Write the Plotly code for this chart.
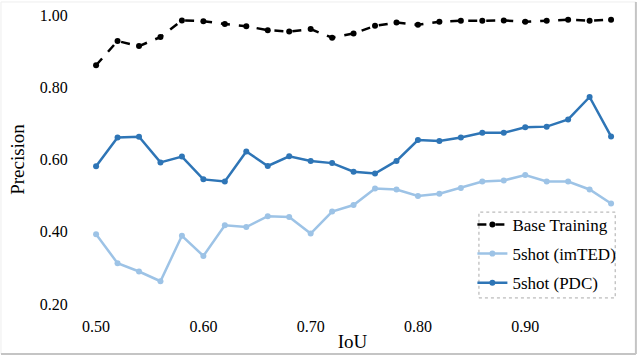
import plotly.graph_objects as go

# IoU thresholds and precision per setting
iou = [0.50, 0.52, 0.54, 0.56, 0.58, 0.60, 0.62, 0.64, 0.66, 0.68, 0.70, 0.72, 0.74,
       0.76, 0.78, 0.80, 0.82, 0.84, 0.86, 0.88, 0.90, 0.92, 0.94, 0.96, 0.98]

base_training = [0.861, 0.928, 0.914, 0.939, 0.985, 0.983, 0.975, 0.969, 0.958, 0.954, 0.961, 0.937, 0.949,
                 0.970, 0.979, 0.973, 0.981, 0.984, 0.984, 0.985, 0.981, 0.984, 0.987, 0.984, 0.987]

shot5_imted = [0.393, 0.313, 0.290, 0.263, 0.389, 0.333, 0.418, 0.413, 0.443, 0.441, 0.395, 0.456, 0.474,
               0.520, 0.517, 0.499, 0.505, 0.521, 0.539, 0.542, 0.557, 0.539, 0.539, 0.517, 0.478]

shot5_pdc = [0.581, 0.661, 0.663, 0.592, 0.608, 0.545, 0.539, 0.622, 0.582, 0.609, 0.596, 0.590, 0.566,
             0.561, 0.596, 0.654, 0.651, 0.661, 0.674, 0.674, 0.689, 0.691, 0.711, 0.773, 0.664]

x_ticks = [0.50, 0.60, 0.70, 0.80, 0.90]
y_ticks = [0.20, 0.40, 0.60, 0.80, 1.00]

serif = "Liberation Serif"

fig = go.Figure()

fig.add_trace(go.Scatter(x=iou, y=base_training, mode='lines+markers', name="Base Training",
                         legendgroup='a',
                         line=dict(color='black', width=2.5, dash='dash'),
                         marker=dict(size=6, color='black'), cliponaxis=False))

fig.add_trace(go.Scatter(x=iou, y=shot5_imted, mode='lines+markers', name="5shot (imTED)",
                         legendgroup='b',
                         line=dict(color='#9DC3E6', width=2.5),
                         marker=dict(size=6, color='#9DC3E6'), cliponaxis=False))

fig.add_trace(go.Scatter(x=iou, y=shot5_pdc, mode='lines+markers', name="5shot (PDC)",
                         legendgroup='c',
                         line=dict(color='#2E75B6', width=2.5),
                         marker=dict(size=6, color='#2E75B6'), cliponaxis=False))

# dashed frame around the legend
fig.add_shape(type="rect", xref="paper", yref="paper", x0=0.732, x1=0.982, y0=0.021, y1=0.318,
              line=dict(color='#AAAAAA', width=1, dash='dot'))

# outer border of the figure: faint top/left, darker right/bottom
fig.add_shape(type="line", xref="paper", yref="paper", x0=-0.145, x1=1.020, y0=1.045, y1=1.045,
              line=dict(color='#EEEEEE', width=1))
fig.add_shape(type="line", xref="paper", yref="paper", x0=-0.145, x1=-0.145, y0=-0.173, y1=1.045,
              line=dict(color='#EEEEEE', width=1))
fig.add_shape(type="line", xref="paper", yref="paper", x0=1.020, x1=1.020, y0=-0.173, y1=1.045,
              line=dict(color='#C4C4C4', width=2))
fig.add_shape(type="line", xref="paper", yref="paper", x0=-0.145, x1=1.020, y0=-0.173, y1=-0.173,
              line=dict(color='#C4C4C4', width=2))

fig.update_layout(
    width=640, height=359,
    margin=dict(l=80, r=15, t=15, b=55),
    paper_bgcolor='white', plot_bgcolor='white',
    font=dict(family=serif, size=16, color='black'),
    showlegend=True,
    legend=dict(x=0.72, y=0.336, xanchor='left', yanchor='top',
                bgcolor='rgba(0,0,0,0)', font=dict(family=serif, size=17),
                tracegroupgap=4, itemwidth=30),
    xaxis=dict(range=[0.485, 0.993], tickvals=x_ticks, tickformat='.2f', automargin=False,
               showgrid=False, zeroline=False, showline=False,
               ticks='outside', ticklen=8, tickcolor='rgba(0,0,0,0)',
               tickfont=dict(family=serif, size=16),
               title=dict(text="IoU", font=dict(family=serif, size=19), standoff=0)),
    yaxis=dict(range=[0.2, 1.0], tickvals=y_ticks, tickformat='.2f', automargin=False,
               showgrid=False, zeroline=False, showline=False,
               ticks='outside', ticklen=8, tickcolor='rgba(0,0,0,0)',
               tickfont=dict(family=serif, size=16),
               title=dict(text="Precision", font=dict(family=serif, size=19), standoff=10)),
)

fig.write_html("out.html", config={'displayModeBar': False},
               post_script="document.body.style.margin='0';")
